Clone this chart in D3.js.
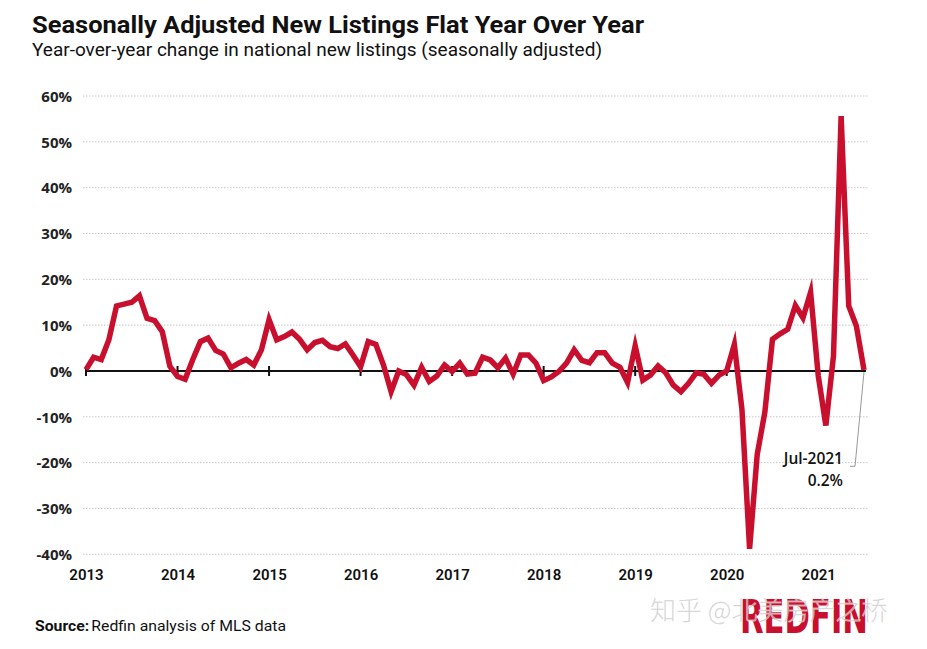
<!DOCTYPE html>
<html>
<head>
<meta charset="utf-8">
<script src="https://cdn.jsdelivr.net/npm/d3@7"></script>
<style>
  html, body { margin: 0; padding: 0; background: #fff; }
  svg { display: block; }
</style>
</head>
<body>
<svg id="chart" width="927" height="649"></svg>
<script>
// ---------- data ----------
const startYear = 2013;
const yearLabels = ["2013","2014","2015","2016","2017","2018","2019","2020","2021"];
const yTicks = [60, 50, 40, 30, 20, 10, 0, -10, -20, -30, -40];
// monthly YoY change (%) Jan 2013 .. Jul 2021
const values = [
  0.3, 3.0, 2.5, 6.8, 14.2, 14.6, 15.0, 16.4, 11.5, 11.0, 8.6, 1.0,
  -1.2, -1.8, 2.5, 6.4, 7.2, 4.5, 3.7, 0.7, 1.7, 2.5, 1.3, 4.6,
  11.2, 6.8, 7.5, 8.5, 6.9, 4.6, 6.2, 6.7, 5.3, 4.9, 5.9, 3.5,
  0.9, 6.4, 5.8, 1.3, -4.5, 0.0, -0.8, -3.1, 0.8, -2.3, -1.1, 1.3,
  -0.1, 1.7, -0.7, -0.5, 3.0, 2.4, 0.7, 2.8, -0.7, 3.5, 3.5, 1.7,
  -2.1, -1.3, -0.1, 1.7, 4.6, 2.3, 1.8, 4.0, 4.0, 1.7, 0.8, -2.5,
  5.5, -2.0, -0.9, 1.1, -0.4, -3.1, -4.5, -2.7, -0.4, -0.7, -2.7, -0.9,
  0.0, 5.8, -8.4, -38.8, -18.2, -9.0, 6.9, 8.1, 9.1, 14.3, 11.6, 17.2,
  -1.0, -11.9, 3.3, 55.6, 14.2, 9.8, 0.2
];
const monthNames = ["Jan","Feb","Mar","Apr","May","Jun","Jul","Aug","Sep","Oct","Nov","Dec"];
const categories = values.map((v, i) => monthNames[i % 12] + "-" + (startYear + Math.floor(i / 12)));
const annotation = { label: "Jul-2021", value: "0.2%" };

// ---------- chart ----------
const svg = d3.select("#chart");
svg.append("rect").attr("width", 927).attr("height", 649).attr("fill", "#fff");

const x = d3.scaleLinear().domain([0, values.length - 1]).range([86, 864]);
const y = d3.scaleLinear().domain([-40, 60]).range([554.3, 96]);

const red = "#c8102e";
const fontMain = "Roboto, 'Open Sans', sans-serif";

// Title / subtitle
svg.append("text").attr("x", 32).attr("y", 33)
  .attr("font-family", fontMain).attr("font-weight", 700).attr("font-size", 23)
  .attr("fill", "#111").attr("textLength", 612).attr("lengthAdjust", "spacingAndGlyphs")
  .text("Seasonally Adjusted New Listings Flat Year Over Year");
svg.append("text").attr("x", 32).attr("y", 56)
  .attr("font-family", fontMain).attr("font-weight", 400).attr("font-size", 18)
  .attr("fill", "#111").attr("textLength", 570).attr("lengthAdjust", "spacingAndGlyphs")
  .text("Year-over-year change in national new listings (seasonally adjusted)");

// gridlines
const grid = svg.append("g");
grid.selectAll("line").data(yTicks.filter(d => d !== 0)).join("line")
  .attr("x1", 83).attr("x2", 868)
  .attr("y1", d => y(d)).attr("y2", d => y(d))
  .attr("stroke", "#c8c8c8").attr("stroke-width", 1)
  .attr("stroke-dasharray", "1.5,1.5");

// y axis labels
const yAxis = d3.axisLeft(y).tickValues(yTicks).tickSize(0).tickPadding(0)
  .tickFormat(d => d + "%");
const yg = svg.append("g").attr("transform", "translate(72,0)").call(yAxis);
yg.select(".domain").remove();
yg.selectAll("text")
  .attr("font-family", "'Open Sans', sans-serif").attr("font-weight", 700)
  .attr("font-size", 15).attr("fill", "#222").attr("dy", "0.35em");

// zero line + year ticks
svg.append("line").attr("x1", x(0)).attr("x2", x(values.length - 1) + 2)
  .attr("y1", y(0)).attr("y2", y(0)).attr("stroke", "#111").attr("stroke-width", 2);

const xAxis = d3.axisBottom(x).tickValues(yearLabels.map((d, i) => i * 12))
  .tickSize(0).tickPadding(0).tickFormat((d, i) => yearLabels[i]);
const xg = svg.append("g").attr("transform", "translate(0,580)").call(xAxis);
xg.select(".domain").remove();
xg.selectAll("text")
  .attr("font-family", fontMain).attr("font-weight", 600)
  .attr("font-size", 15).attr("fill", "#111").attr("dy", 0);

svg.append("g").selectAll("line").data(yearLabels.map((d, i) => i * 12)).join("line")
  .attr("x1", d => x(d)).attr("x2", d => x(d))
  .attr("y1", y(0) - 5).attr("y2", y(0) + 5)
  .attr("stroke", "#111").attr("stroke-width", 2);

// data line
const line = d3.line().x((d, i) => x(i)).y(d => y(d));
svg.append("path").datum(values)
  .attr("d", line).attr("fill", "none")
  .attr("stroke", red).attr("stroke-width", 5.5)
  .attr("stroke-linejoin", "miter").attr("stroke-miterlimit", 6);

// annotation
const last = values.length - 1;
svg.append("path")
  .attr("d", `M${x(last)},${y(values[last]) + 2} L${x(last) - 9},${y(-20.8)} L${x(last) - 14},${y(-20.8)}`)
  .attr("fill", "none").attr("stroke", "#999").attr("stroke-width", 1);
svg.append("text").attr("x", 843).attr("y", 464).attr("text-anchor", "end")
  .attr("font-family", "'Open Sans', sans-serif").attr("font-weight", 600)
  .attr("font-size", 15.5).attr("fill", "#111").text(annotation.label);
svg.append("text").attr("x", 843).attr("y", 486).attr("text-anchor", "end")
  .attr("font-family", "'Open Sans', sans-serif").attr("font-weight", 600)
  .attr("font-size", 15.5).attr("fill", "#111").text(annotation.value);

// source
const src = svg.append("text").attr("x", 35).attr("y", 631)
  .attr("font-family", fontMain).attr("font-size", 15).attr("fill", "#111")
  .attr("textLength", 251).attr("lengthAdjust", "spacingAndGlyphs");
src.append("tspan").attr("font-weight", 700).text("Source:");
src.append("tspan").attr("font-weight", 400).attr("dx", 2).text("Redfin analysis of MLS data");

// logo
svg.append("text").attr("x", 740).attr("y", 633)
  .attr("font-family", "'DejaVu Sans Condensed', 'DejaVu Sans', sans-serif").attr("font-weight", 700)
  .attr("font-size", 46).attr("fill", red)
  .attr("textLength", 128).attr("lengthAdjust", "spacingAndGlyphs")
  .text("REDFIN");

// watermark
svg.append("text").attr("x", 650).attr("y", 620)
  .attr("font-family", "'Noto Sans CJK SC', sans-serif").attr("font-weight", 300)
  .attr("font-size", 26).attr("fill", "#aaa").attr("fill-opacity", 0.75)
  .attr("stroke", "#fff").attr("stroke-opacity", 0.5).attr("stroke-width", 0.8)
  .text("知乎 @北美房产之桥");
</script>
</body>
</html>
